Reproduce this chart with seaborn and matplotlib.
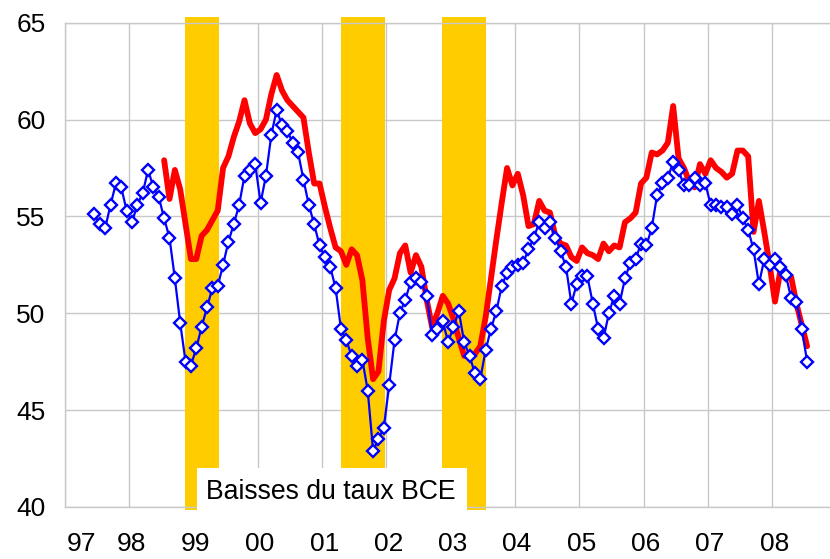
import numpy as np
import pandas as pd
import matplotlib
matplotlib.use("Agg")
import matplotlib.pyplot as plt
import seaborn as sns
from matplotlib.patches import Rectangle

# ---------------- data ----------------
blue_start = "1997-06"
blue_values = [
    55.1, 54.6, 54.4, 55.6, 56.7, 56.5, 55.3, 54.7, 55.6, 56.2,
    57.4, 56.5, 56.0, 54.9, 53.9, 51.8, 49.5, 47.5, 47.3, 48.2,
    49.3, 50.3, 51.3, 51.4, 52.5, 53.7, 54.6, 55.6, 57.1, 57.4,
    57.7, 55.7, 57.1, 59.2, 60.5, 59.7, 59.4, 58.8, 58.3, 56.9,
    55.6, 54.6, 53.5, 52.9, 52.4, 51.3, 49.2, 48.6, 47.8, 47.3,
    47.6, 46.0, 42.9, 43.5, 44.1, 46.3, 48.6, 50.0, 50.7, 51.6,
    51.8, 51.6, 50.9, 48.9, 49.2, 49.6, 48.5, 49.3, 50.1, 48.5,
    47.8, 46.9, 46.6, 48.1, 49.2, 50.1, 51.4, 52.1, 52.4, 52.5,
    52.6, 53.3, 53.9, 54.7, 54.4, 54.7, 53.9, 53.2, 52.4, 50.5,
    51.5, 51.9, 51.9, 50.5, 49.2, 48.7, 50.0, 50.9, 50.5, 51.8,
    52.6, 52.8, 53.6, 53.5, 54.4, 56.1, 56.7, 57.0, 57.8, 57.4,
    56.6, 56.6, 57.0, 56.6, 56.7, 55.6, 55.6, 55.5, 55.5, 55.1,
    55.6, 54.9, 54.3, 53.3, 51.5, 52.8, 52.5, 52.8, 52.4, 52.0,
    50.8, 50.6, 49.2, 47.5,
]

red_start = "1998-07"
red_values = [
    57.9, 55.9, 57.4, 56.4, 54.6, 52.8, 52.8, 54.0, 54.3, 54.8,
    55.3, 57.5, 58.1, 59.1, 59.9, 61.0, 59.8, 59.3, 59.5, 60.0,
    61.3, 62.3, 61.5, 61.0, 60.7, 60.4, 60.1, 58.3, 56.7, 56.7,
    55.5, 54.4, 53.4, 53.2, 52.5, 53.3, 53.0, 51.7, 48.7, 46.6,
    47.0, 49.6, 51.2, 51.8, 53.1, 53.5, 52.1, 53.0, 52.4, 50.7,
    49.3, 50.0, 50.9, 50.5, 49.7, 48.7, 47.8, 47.8, 47.9, 48.3,
    49.8, 51.8, 53.8, 55.7, 57.5, 56.6, 57.2, 56.1, 54.5, 54.6,
    55.8, 55.3, 55.2, 54.0, 53.6, 53.5, 52.9, 52.7, 53.4, 53.1,
    53.0, 52.8, 53.6, 53.2, 53.5, 53.4, 54.7, 54.9, 55.2, 56.7,
    57.0, 58.3, 58.2, 58.4, 58.8, 60.7, 58.0, 57.5, 56.8, 56.5,
    57.7, 57.2, 57.9, 57.5, 57.3, 57.0, 57.2, 58.4, 58.4, 58.1,
    54.2, 55.8, 54.2, 52.5, 50.6, 52.2, 51.8, 51.9, 50.5, 49.4,
    48.3,
]

# ECB rate-cut periods (start, end as fractional years)
bce_cut_periods = [(1998.866, 1999.400), (2001.288, 2001.977), (2002.868, 2003.547)]
band_label = "Baisses du taux BCE"

years = list(range(1997, 2009))
year_labels = ["97", "98", "99", "00", "01", "02", "03", "04", "05", "06", "07", "08"]
y_ticks = [40, 45, 50, 55, 60, 65]


def month_positions(start, n):
    p = pd.period_range(start, periods=n, freq="M")
    return np.asarray(p.year + (p.month - 0.5) / 12.0, dtype=float)


df_blue = pd.DataFrame({"x": month_positions(blue_start, len(blue_values)), "v": blue_values})
df_red = pd.DataFrame({"x": month_positions(red_start, len(red_values)), "v": red_values})

# ---------------- style ----------------
sns.set_style("white")
plt.rcParams["font.family"] = ["Liberation Sans", "DejaVu Sans"]

W, H = 830, 559
fig = plt.figure(figsize=(W / 100, H / 100), dpi=100)
ax_left, ax_right, ax_top, ax_bottom = 65, 830, 22.7, 507
ax = fig.add_axes([ax_left / W, 1 - ax_bottom / H, (ax_right - ax_left) / W, (ax_bottom - ax_top) / H])

px_per_year = 64.3
ax.set_xlim(1997, 1997 + (ax_right - ax_left) / px_per_year)
ax.set_ylim(40, 65)

axis_h = ax_bottom - ax_top
for x0, x1 in bce_cut_periods:
    ax.axvspan(x0, x1, ymin=-3 / axis_h, ymax=1 + 6 / axis_h, color="#FFCC00",
               lw=0, zorder=1.5, clip_on=False)

sns.lineplot(data=df_red, x="x", y="v", color="#FF0000", linewidth=4.2, ax=ax,
             zorder=3, sort=False)
sns.lineplot(data=df_blue, x="x", y="v", color="#0000FF", linewidth=1.6, ax=ax,
             marker="D", markersize=5.8, markerfacecolor="white",
             markeredgecolor="#0000FF", markeredgewidth=1.7, zorder=4, sort=False)

# grid
grid_col = "#c8c8c8"
ax.set_xticks(years)
ax.set_xticklabels([])
label_pos = [y + 0.03 for y in years]
label_pos[0] = years[0] + 0.26
ax.set_xticks(label_pos, minor=True)
ax.set_xticklabels(year_labels, minor=True)
ax.set_yticks(y_ticks)
ax.set_yticklabels([str(v) for v in y_ticks])
ax.grid(True, which="major", color=grid_col, lw=1.0, zorder=0)
ax.set_axisbelow(True)
ax.xaxis.grid(False, which="minor")
for s in ["left", "bottom", "top"]:
    ax.spines[s].set_color(grid_col)
    ax.spines[s].set_linewidth(1.0)
ax.spines["right"].set_visible(False)

ax.tick_params(axis="x", which="both", length=0, pad=18, labelsize=19, colors="black")
ax.tick_params(axis="y", which="both", length=0, pad=14, labelsize=19, colors="black")
ax.set_xlabel("")
ax.set_ylabel("")

# label box
def px2x(p):
    return 1997 + (p - ax_left) / px_per_year

def py2y(p):
    return 40 + (ax_bottom - p) * 25 / axis_h

box = Rectangle((px2x(197), py2y(510)), px2x(467) - px2x(197), py2y(468) - py2y(510),
                facecolor="white", edgecolor="none", zorder=5, clip_on=False)
ax.add_patch(box)
ax.text(px2x(206.5), py2y(492.5), band_label, ha="left", va="center", fontsize=19.2,
        color="black", zorder=6)

fig.savefig("out.png", dpi=100)
